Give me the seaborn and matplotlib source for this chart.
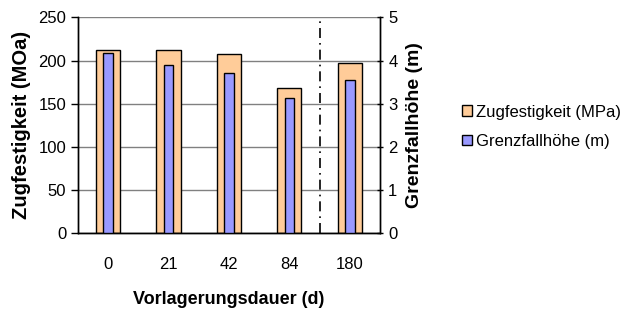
import pandas as pd
import matplotlib
matplotlib.use("Agg")
import matplotlib.pyplot as plt
from matplotlib.patches import Patch
import seaborn as sns

# data
tage = ['0', '21', '42', '84', '180']
zugfestigkeit = [212, 212, 207, 168.5, 197]   # MPa, left axis
grenzfall = [4.18, 3.9, 3.7, 3.13, 3.55]       # m, right axis

df = pd.DataFrame({'tage': tage, 'zug': zugfestigkeit, 'grenz': grenzfall})

sns.set_style("white")
plt.rcParams['font.family'] = ['Liberation Sans', 'DejaVu Sans']
plt.rcParams.update({'text.color': 'black', 'axes.labelcolor': 'black',
                     'xtick.color': 'black', 'ytick.color': 'black'})

fig = plt.figure(figsize=(6.29, 3.09), dpi=100)
ax = fig.add_axes([0.124, 0.245, 0.48, 0.699])
ax2 = ax.twinx()

orange = '#FFCC99'
blue = '#9999FF'

sns.barplot(data=df, x='tage', y='zug', order=tage, color=orange, width=0.4,
            edgecolor='black', linewidth=1, saturation=1, ax=ax, zorder=2)
sns.barplot(data=df, x='tage', y='grenz', order=tage, color=blue, width=0.16,
            edgecolor='black', linewidth=1, saturation=1, ax=ax2, zorder=3)

ax.set_ylim(0, 250)
ax.set_yticks(range(0, 251, 50))
ax2.set_ylim(0, 5)
ax2.set_yticks(range(0, 6))
ax.set_xlim(-0.5, 4.5)

ax.yaxis.grid(True, color='#808080', linewidth=1)
ax.set_axisbelow(True)

ax.spines['top'].set_visible(False)
ax2.spines['top'].set_visible(False)
for a in (ax, ax2):
    for s in ['left', 'right', 'bottom']:
        a.spines[s].set_color('black')
        a.spines[s].set_linewidth(1)

# x ticks at category boundaries
ax.set_xticks([i - 0.5 for i in range(6)], minor=True)
ax.tick_params(axis='x', which='minor', length=5, width=1, color='black', direction='out')
ax.tick_params(axis='x', which='major', length=0, labelsize=12, pad=17)
ax.tick_params(axis='y', length=5, width=1, color='black', direction='out', labelsize=12, left=True)
ax2.tick_params(axis='y', length=5, width=1, color='black', direction='inout', labelsize=12, right=True)

# dash-dot separator between 84 and 180
ax.axvline(3.5, color='black', linestyle=(0, (6, 3, 1, 3)), linewidth=1.2, zorder=4)

ax.set_xlabel('Vorlagerungsdauer (d)', fontsize=13, fontweight='bold', labelpad=14)
ax.set_ylabel('Zugfestigkeit (MOa)', fontsize=14.5, fontweight='bold', labelpad=5)
ax2.set_ylabel('Grenzfallhöhe (m)', fontsize=14, fontweight='bold', labelpad=6)

handles = [Patch(facecolor=orange, edgecolor='black', label='Zugfestigkeit (MPa)'),
           Patch(facecolor=blue, edgecolor='black', label='Grenzfallhöhe (m)')]
fig.legend(handles=handles, loc='center left', bbox_to_anchor=(0.734, 0.59),
           frameon=False, fontsize=12, handlelength=0.6, handleheight=0.6,
           handletextpad=0.25, labelspacing=0.85, borderpad=0, borderaxespad=0)

plt.savefig('out.png', dpi=100)
